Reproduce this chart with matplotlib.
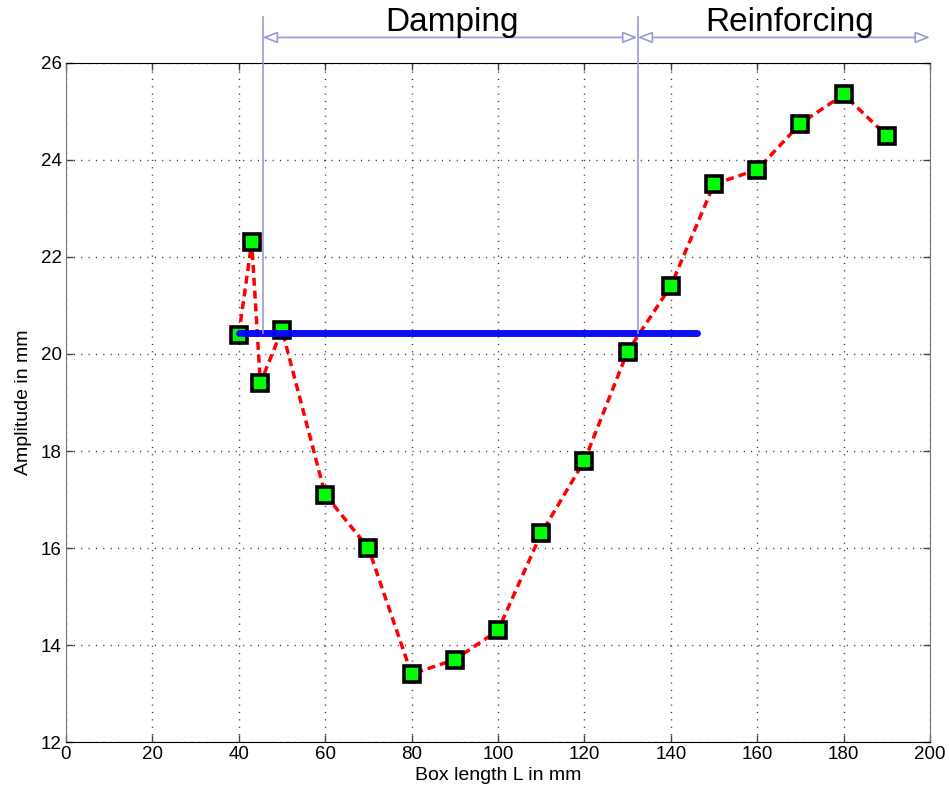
import numpy as np
import matplotlib
matplotlib.use('Agg')
import matplotlib.pyplot as plt
import matplotlib.transforms as mtransforms

plt.rcParams['font.family'] = ['Liberation Sans', 'DejaVu Sans']

# measured amplitude vs box length
box_len = [40, 43, 45, 50, 60, 70, 80, 90, 100, 110, 120, 130, 140, 150, 160, 170, 180, 190]
amplitude = [20.4, 22.3, 19.4, 20.5, 17.1, 16.0, 13.4, 13.7, 14.3, 16.3, 17.8, 20.05,
             21.4, 23.5, 23.8, 24.75, 25.35, 24.5]

# reference level without box
ref_x = [40, 146]
ref_level = [20.43, 20.43]

# region boundaries
x_damp_start = 45.5
x_reinf_start = 132.3
x_end = 200
region_labels = ['Damping', 'Reinforcing']

fig = plt.figure(figsize=(9.49, 7.96), dpi=100)
ax = fig.add_axes([0.0695, 0.0678, 0.9105, 0.8531])

ax.plot(box_len, amplitude, 'r--', lw=2.5, dashes=(2.3, 1.4), zorder=3)
ax.plot(box_len, amplitude, ls='none', marker='s', ms=12, mfc=(0, 1, 0), mec='k', mew=2.6, zorder=4)
ax.plot(ref_x, ref_level, color='b', lw=5, solid_capstyle='round', alpha=0.95, zorder=5)

ax.set_xlim(0, 200)
ax.set_ylim(12, 26)
ax.set_xticks(np.arange(0, 201, 20))
ax.set_yticks(np.arange(12, 27, 2))
ax.grid(True, color='#333333', ls=(0, (0.8, 4.5)), lw=1.0)
ax.tick_params(direction='in', top=True, right=True, labelsize=13.5, length=5, width=1,
               colors='#444444', labelcolor='k', pad=3)
for s in ['left', 'right']:
    ax.spines[s].set_color('#777777')
for s in ['top', 'bottom']:
    ax.spines[s].set_color('k')
ax.set_xlabel('Box length L in mm', fontsize=14, labelpad=3)
ax.set_ylabel('Amplitude in mm', fontsize=14, labelpad=6)

# region markers above the axes
trans = mtransforms.blended_transform_factory(ax.transData, ax.transAxes)
lc = (0.6, 0.6, 0.85)
for xv in [x_damp_start, x_reinf_start]:
    ax.plot([xv, xv], [ref_level[0], 26], color=lc, lw=1.2, zorder=6)
    ax.plot([xv, xv], [1.0, 1.068], color=lc, lw=1.2, transform=trans, clip_on=False)

arrow_y = 1.0376
for x0, x1 in [(x_damp_start, x_reinf_start), (x_reinf_start, x_end)]:
    ax.annotate('', xy=(x1, arrow_y), xytext=(x0, arrow_y), xycoords=trans, textcoords=trans,
                arrowprops=dict(arrowstyle='<|-|>,head_length=0.9,head_width=0.35', color=lc, fc='white',
                                lw=1.2, shrinkA=0, shrinkB=0), annotation_clip=False)

ax.text(89.4, 1.06, region_labels[0], transform=trans, ha='center', va='center', fontsize=24)
ax.text(167.6, 1.06, region_labels[1], transform=trans, ha='center', va='center', fontsize=24)

fig.savefig('out.png', dpi=100)
